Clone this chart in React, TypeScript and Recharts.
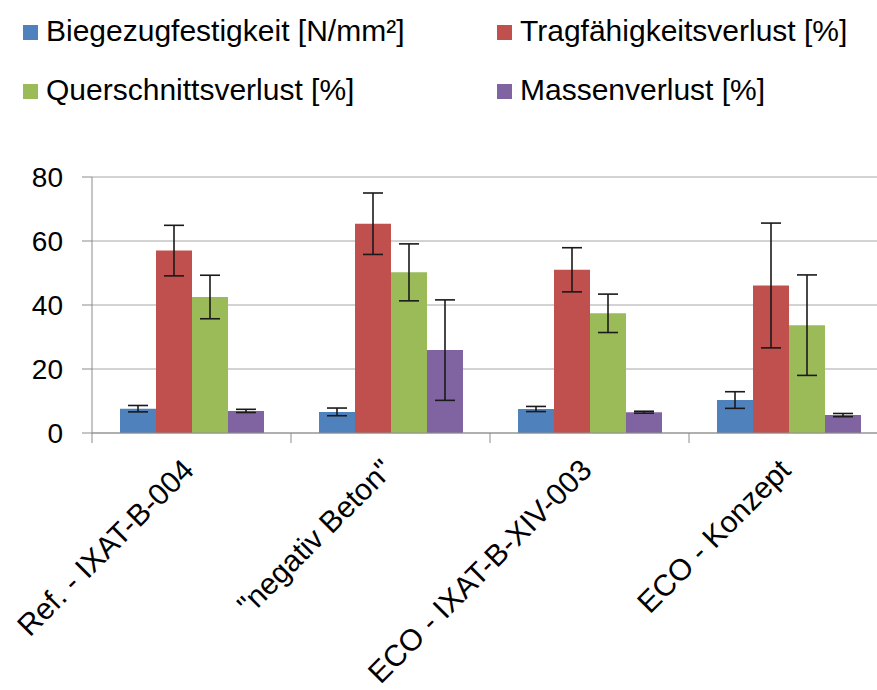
import React from 'react'
import {
  BarChart,
  Bar,
  XAxis,
  YAxis,
  CartesianGrid,
  Legend,
  ErrorBar,
} from 'recharts'

const categories = ['Ref. - IXAT-B-004', '"negativ Beton"', 'ECO - IXAT-B-XIV-003', 'ECO - Konzept']

const biegezug = [7.6, 6.6, 7.5, 10.3]
const biegezugErr = [1.0, 1.2, 0.8, 2.6]
const tragVerlust = [57.0, 65.4, 51.0, 46.1]
const tragVerlustErr = [7.9, 9.6, 6.9, 19.5]
const querVerlust = [42.5, 50.2, 37.4, 33.7]
const querVerlustErr = [6.8, 8.9, 6.0, 15.7]
const massenVerlust = [6.9, 25.9, 6.5, 5.6]
const massenVerlustErr = [0.5, 15.7, 0.3, 0.5]

const yTicks = [0, 20, 40, 60, 80]

const series = [
  { key: 'biegezug', name: 'Biegezugfestigkeit [N/mm²]', color: '#4F81BD' },
  { key: 'trag', name: 'Tragfähigkeitsverlust [%]', color: '#C0504D' },
  { key: 'quer', name: 'Querschnittsverlust [%]', color: '#9BBB59' },
  { key: 'masse', name: 'Massenverlust [%]', color: '#8064A2' },
]

const data = categories.map((name, i) => ({
  name,
  biegezug: biegezug[i],
  biegezugErr: biegezugErr[i],
  trag: tragVerlust[i],
  tragErr: tragVerlustErr[i],
  quer: querVerlust[i],
  querErr: querVerlustErr[i],
  masse: massenVerlust[i],
  masseErr: massenVerlustErr[i],
}))

const FONT = '"Liberation Sans", Arial, sans-serif'
const AXIS = '#8c8c8c'

function CategoryTick({ x, y, payload }: any) {
  const half = payload?.offset ?? 0
  return (
    <g>
      <line x1={x - half} y1={y} x2={x - half} y2={y + 10} stroke={AXIS} />
      <text
        transform={`translate(${x + 4},${y + 39}) rotate(-45)`}
        textAnchor="end"
        fontSize={30}
        fill="#000"
        fontFamily={FONT}
      >
        {payload.value}
      </text>
    </g>
  )
}

function LegendBox({ payload }: any) {
  // keep the series order (recharts sorts the legend by name)
  const order = series.map((s) => s.name)
  const items = [...(payload || [])].sort((a: any, b: any) => order.indexOf(a.value) - order.indexOf(b.value))
  return (
    <div
      style={{
        display: 'grid',
        gridTemplateColumns: '474px auto',
        gridAutoRows: '59px',
        paddingLeft: 23,
        paddingTop: 1,
        fontFamily: FONT,
        fontSize: 30,
        color: '#000',
      }}
    >
      {items.map((p: any) => (
        <div key={p.value} style={{ display: 'flex', alignItems: 'center' }}>
          <span style={{ width: 15, height: 15, background: p.color, marginRight: 8, marginTop: 4 }} />
          <span>{p.value}</span>
        </div>
      ))}
    </div>
  )
}

export default function App() {
  return (
    <div style={{ position: 'absolute', left: 0, top: 0, width: 877, height: 690, overflow: 'hidden', background: '#fff' }}>
      <BarChart
        width={888}
        height={690}
        data={data}
        margin={{ top: 67, right: 0, bottom: 0, left: 0 }}
        barGap={0}
        barSize={36}
      >
        <CartesianGrid vertical={false} stroke="#a6a6a6" />
        <XAxis
          dataKey="name"
          interval={0}
          height={257}
          tickSize={0}
          tickMargin={0}
          tickLine={false}
          axisLine={{ stroke: AXIS }}
          tick={<CategoryTick />}
        />
        <YAxis
          domain={[0, 80]}
          ticks={yTicks}
          width={92}
          tickSize={10}
          tickMargin={19}
          axisLine={{ stroke: AXIS }}
          tickLine={{ stroke: AXIS }}
          tick={{ fontSize: 28, fill: '#000', fontFamily: FONT }}
        />
        <Legend
          verticalAlign="top"
          align="left"
          wrapperStyle={{ top: 0, left: 0, width: 877, height: 110 }}
          content={<LegendBox />}
        />
        {series.map((s) => (
          <Bar key={s.key} dataKey={s.key} name={s.name} fill={s.color} isAnimationActive={false}>
            <ErrorBar dataKey={`${s.key}Err`} width={10} stroke="#1a1a1a" strokeWidth={1.6} direction="y" />
          </Bar>
        ))}
      </BarChart>
    </div>
  )
}
